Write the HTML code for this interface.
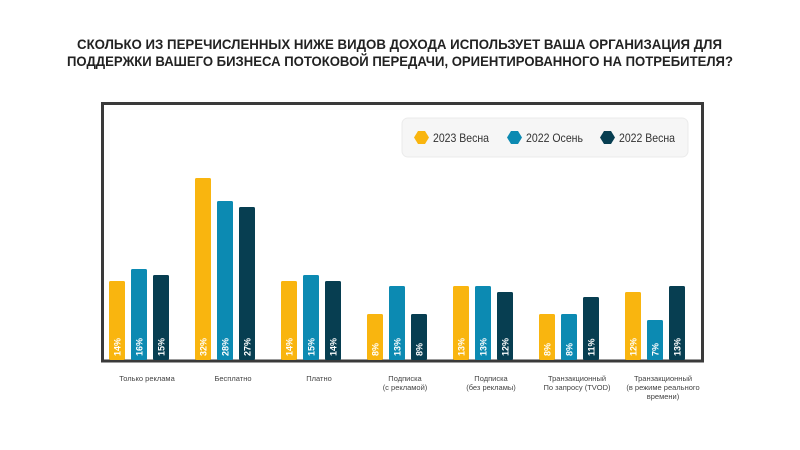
<!DOCTYPE html>
<html><head><meta charset="utf-8"><style>
html,body{margin:0;padding:0;background:#fff;width:800px;height:450px;overflow:hidden}
svg{display:block;font-family:"Liberation Sans",sans-serif}
</style></head><body>
<svg width="800" height="450" viewBox="0 0 800 450" xmlns="http://www.w3.org/2000/svg">
<g font-weight="bold" font-size="14" fill="#222" text-anchor="start">
<text x="77" y="49" textLength="645" lengthAdjust="spacingAndGlyphs">СКОЛЬКО ИЗ ПЕРЕЧИСЛЕННЫХ НИЖЕ ВИДОВ ДОХОДА ИСПОЛЬЗУЕТ ВАША ОРГАНИЗАЦИЯ ДЛЯ</text>
<text x="67" y="66" textLength="666" lengthAdjust="spacingAndGlyphs">ПОДДЕРЖКИ ВАШЕГО БИЗНЕСА ПОТОКОВОЙ ПЕРЕДАЧИ, ОРИЕНТИРОВАННОГО НА ПОТРЕБИТЕЛЯ?</text>
</g>
<path d="M102.5 361 V103.5 H702.5 V361 Z" fill="none" stroke="#3a3a3a" stroke-width="3"/>
<rect x="402" y="118" width="286" height="39" rx="6" fill="#f6f6f6" stroke="#ebebeb"/>
<g font-size="12" fill="#333">
<polygon points="414,137.5 418,131 425,131 429,137.5 425,144 418,144" fill="#f9b50f"/>
<text x="433" y="142" textLength="56" lengthAdjust="spacingAndGlyphs">2023 Весна</text>
<polygon points="507,137.5 511,131 518,131 522,137.5 518,144 511,144" fill="#0c8ab2"/>
<text x="526" y="142" textLength="57" lengthAdjust="spacingAndGlyphs">2022 Осень</text>
<polygon points="600,137.5 604,131 611,131 615,137.5 611,144 604,144" fill="#073e51"/>
<text x="619" y="142" textLength="56" lengthAdjust="spacingAndGlyphs">2022 Весна</text>
</g>
<g font-size="7.5" fill="#444" text-anchor="middle">
<text x="147" y="381">Только реклама</text>
<text x="233" y="381">Бесплатно</text>
<text x="319" y="381">Платно</text>
<text x="405" y="381">Подписка</text><text x="405" y="390">(с рекламой)</text>
<text x="491" y="381">Подписка</text><text x="491" y="390">(без рекламы)</text>
<text x="577" y="381">Транзакционный</text><text x="577" y="390">По запросу (TVOD)</text>
<text x="663" y="381">Транзакционный</text><text x="663" y="390">(в режиме реального</text><text x="663" y="399">времени)</text>
</g>
<g fill="#f9b50f">
<rect x="109" y="281" width="16" height="79" rx="1.5"/>
<rect x="195" y="178" width="16" height="182" rx="1.5"/>
<rect x="281" y="281" width="16" height="79" rx="1.5"/>
<rect x="367" y="314" width="16" height="46" rx="1.5"/>
<rect x="453" y="286" width="16" height="74" rx="1.5"/>
<rect x="539" y="314" width="16" height="46" rx="1.5"/>
<rect x="625" y="292" width="16" height="68" rx="1.5"/>
</g>
<g fill="#0c8ab2">
<rect x="131" y="269" width="16" height="91" rx="1.5"/>
<rect x="217" y="201" width="16" height="159" rx="1.5"/>
<rect x="303" y="275" width="16" height="85" rx="1.5"/>
<rect x="389" y="286" width="16" height="74" rx="1.5"/>
<rect x="475" y="286" width="16" height="74" rx="1.5"/>
<rect x="561" y="314" width="16" height="46" rx="1.5"/>
<rect x="647" y="320" width="16" height="40" rx="1.5"/>
</g>
<g fill="#073e51">
<rect x="153" y="275" width="16" height="85" rx="1.5"/>
<rect x="239" y="207" width="16" height="153" rx="1.5"/>
<rect x="325" y="281" width="16" height="79" rx="1.5"/>
<rect x="411" y="314" width="16" height="46" rx="1.5"/>
<rect x="497" y="292" width="16" height="68" rx="1.5"/>
<rect x="583" y="297" width="16" height="63" rx="1.5"/>
<rect x="669" y="286" width="16" height="74" rx="1.5"/>
</g>
<g font-size="9" font-weight="bold" fill="#fff" text-anchor="start">
<text transform="translate(120.5,356) rotate(-90)">14%</text>
<text transform="translate(142.5,356) rotate(-90)">16%</text>
<text transform="translate(164.5,356) rotate(-90)">15%</text>
<text transform="translate(206.5,356) rotate(-90)">32%</text>
<text transform="translate(228.5,356) rotate(-90)">28%</text>
<text transform="translate(250.5,356) rotate(-90)">27%</text>
<text transform="translate(292.5,356) rotate(-90)">14%</text>
<text transform="translate(314.5,356) rotate(-90)">15%</text>
<text transform="translate(336.5,356) rotate(-90)">14%</text>
<text transform="translate(378.5,356) rotate(-90)">8%</text>
<text transform="translate(400.5,356) rotate(-90)">13%</text>
<text transform="translate(422.5,356) rotate(-90)">8%</text>
<text transform="translate(464.5,356) rotate(-90)">13%</text>
<text transform="translate(486.5,356) rotate(-90)">13%</text>
<text transform="translate(508.5,356) rotate(-90)">12%</text>
<text transform="translate(550.5,356) rotate(-90)">8%</text>
<text transform="translate(572.5,356) rotate(-90)">8%</text>
<text transform="translate(594.5,356) rotate(-90)">11%</text>
<text transform="translate(636.5,356) rotate(-90)">12%</text>
<text transform="translate(658.5,356) rotate(-90)">7%</text>
<text transform="translate(680.5,356) rotate(-90)">13%</text>
</g>
</svg>
</body></html>
